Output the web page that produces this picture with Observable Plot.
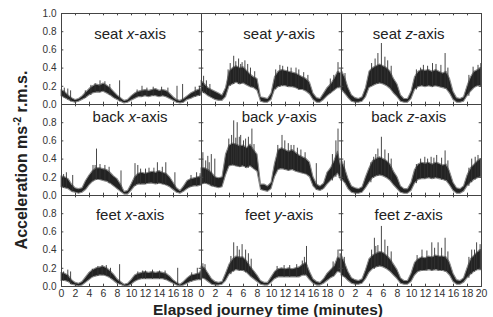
<!DOCTYPE html>
<html><head><meta charset="utf-8">
<script src="https://cdn.jsdelivr.net/npm/d3@7"></script>
<script src="https://cdn.jsdelivr.net/npm/@observablehq/plot@0.6"></script>
<style>
body{margin:0;background:#fff;}
#wrap{position:relative;width:493px;height:317px;font-family:"Liberation Sans",Arial,Helvetica,sans-serif;}
#ylab{position:absolute;left:21.5px;top:159.5px;transform:translate(-50%,-50%) rotate(-90deg);font-weight:bold;font-size:16px;line-height:1;white-space:nowrap;color:#222;}
#ylab sup{font-size:10px;vertical-align:6px;line-height:0;}
#xlab{position:absolute;left:268px;top:309.5px;transform:translate(-50%,-50%);font-weight:bold;font-size:15.5px;line-height:1;white-space:nowrap;color:#222;}
</style></head>
<body>
<div id="wrap"><div id="chart"></div><div id="ylab">Acceleration ms<sup>-2</sup> r.m.s.</div><div id="xlab">Elapsed journey time (minutes)</div></div>
<script>
const locs = ["seat","back","feet"];
const axesNames = ["x","y","z"];
const times = [0,0.5,1,1.5,2,2.5,3,3.5,4,4.5,5,5.5,6,6.5,7,7.5,8,8.5,9,9.5,10,10.5,11,11.5,12,12.5,13,13.5,14,14.5,15,15.5,16,16.5,17,17.5,18,18.5,19,19.5,20];

const seatXHi = [.16,.14,.10,.07,.05,.06,.09,.13,.17,.20,.22,.21,.23,.21,.18,.14,.10,.07,.04,.05,.09,.12,.14,.15,.16,.15,.16,.17,.15,.16,.15,.12,.08,.05,.04,.06,.09,.12,.14,.16,.17];
const seatXLo = [.09,.07,.05,.03,.02,.03,.05,.07,.10,.12,.13,.13,.14,.12,.10,.07,.05,.03,.01,.02,.04,.06,.08,.08,.09,.08,.09,.09,.08,.09,.08,.06,.04,.02,.01,.02,.05,.06,.08,.09,.10];
const seatXSpikes = [[0.4,.18],[0.9,.17],[1.3,.15],[3.4,.15],[4.2,.21],[4.8,.23],[5.5,.26],[6.2,.25],[6.9,.22],[8.3,.26],[10.8,.16],[11.5,.2],[12.2,.18],[13.1,.19],[14.3,.19],[15.2,.18],[16.5,.2],[17.3,.22],[19.1,.19],[19.7,.2]];

const seatYHi = [.26,.22,.18,.16,.14,.12,.10,.18,.36,.40,.42,.40,.41,.37,.33,.30,.28,.08,.07,.06,.12,.30,.36,.38,.37,.36,.35,.34,.32,.30,.28,.24,.12,.07,.06,.12,.18,.22,.28,.36,.34];
const seatYLo = [.14,.12,.09,.07,.05,.04,.04,.08,.20,.22,.24,.22,.23,.21,.19,.18,.15,.03,.02,.02,.05,.16,.19,.20,.20,.19,.19,.18,.16,.16,.14,.11,.05,.02,.02,.05,.09,.12,.15,.18,.18];
const seatYSpikes = [[0.3,.31],[0.7,.26],[1.2,.22],[3.8,.38],[4.1,.45],[4.6,.53],[4.9,.47],[5.3,.5],[5.6,.44],[5.8,.46],[6.2,.48],[6.6,.44],[7.0,.40],[7.6,.36],[10.6,.38],[11.2,.43],[11.6,.42],[12.3,.41],[12.8,.40],[13.5,.40],[13.9,.38],[14.6,.35],[15.2,.32],[18.4,.28],[18.9,.32],[19.5,.46]];

const seatZHi = [.38,.30,.18,.10,.07,.06,.08,.18,.36,.40,.42,.44,.42,.40,.36,.28,.22,.10,.06,.06,.14,.30,.36,.38,.37,.38,.36,.38,.36,.34,.36,.28,.14,.07,.06,.08,.20,.30,.36,.38,.40];
const seatZLo = [.16,.12,.07,.03,.02,.02,.03,.08,.18,.20,.22,.23,.22,.20,.17,.12,.08,.03,.02,.02,.06,.16,.19,.20,.19,.20,.19,.20,.19,.18,.17,.12,.05,.02,.02,.03,.09,.14,.18,.20,.20];
const seatZSpikes = [[0,.43],[0.5,.34],[4.3,.45],[4.8,.5],[5.2,.56],[5.7,.67],[6.2,.52],[6.6,.48],[7.1,.42],[10.7,.38],[11.3,.40],[11.7,.43],[12.3,.42],[13,.45],[13.5,.44],[14.2,.43],[14.8,.56],[15.2,.40],[18.2,.32],[18.8,.41],[19.5,.43],[19.9,.45]];

const backXHi = [.21,.20,.18,.12,.08,.07,.08,.16,.22,.27,.30,.30,.29,.28,.25,.21,.18,.12,.04,.05,.12,.20,.24,.25,.24,.25,.26,.25,.27,.25,.24,.20,.14,.08,.05,.10,.16,.18,.19,.20,.21];
const backXLo = [.09,.08,.07,.04,.03,.02,.03,.06,.11,.15,.17,.17,.16,.15,.13,.10,.07,.04,.01,.01,.05,.10,.12,.12,.12,.13,.13,.12,.13,.12,.11,.09,.06,.03,.02,.04,.07,.09,.10,.10,.11];
const backXSpikes = [[0.3,.23],[0.7,.25],[1.6,.22],[4.5,.33],[4.8,.33],[5,.51],[5.5,.34],[6.2,.33],[6.8,.31],[8.5,.27],[10.5,.35],[10.9,.33],[11.3,.29],[12,.29],[12.5,.3],[13.2,.30],[13.7,.36],[14.4,.31],[14.9,.36],[16.2,.25],[18.5,.22],[19.3,.25],[19.8,.24]];

const backYHi = [.30,.30,.28,.25,.20,.19,.20,.45,.55,.57,.56,.54,.55,.52,.56,.50,.45,.12,.12,.10,.14,.35,.50,.52,.50,.48,.50,.47,.44,.42,.40,.36,.20,.12,.10,.13,.25,.30,.38,.48,.30];
const backYLo = [.12,.13,.12,.10,.09,.08,.09,.22,.32,.33,.32,.31,.32,.30,.32,.29,.26,.06,.05,.04,.07,.20,.28,.29,.28,.27,.28,.26,.25,.24,.23,.20,.10,.06,.05,.07,.12,.16,.20,.24,.16];
const backYSpikes = [[0.2,.47],[0.6,.38],[0.9,.43],[1.1,.36],[1.4,.45],[1.9,.40],[3.9,.62],[4.3,.66],[4.6,.82],[4.9,.63],[5.1,.80],[5.4,.64],[5.6,.66],[6.0,.60],[6.3,.62],[6.7,.64],[7.2,.73],[7.5,.56],[10.9,.55],[11.5,.66],[11.9,.6],[12.4,.57],[12.8,.55],[13.2,.55],[13.7,.52],[14.2,.5],[14.8,.47],[16.4,.35],[18.7,.45],[19.2,.6],[19.5,.73]];

const backZHi = [.40,.30,.18,.10,.08,.07,.09,.20,.30,.38,.40,.42,.40,.38,.34,.26,.20,.10,.07,.07,.14,.28,.34,.36,.35,.36,.34,.36,.35,.33,.34,.26,.14,.08,.07,.10,.22,.30,.34,.38,.40];
const backZLo = [.18,.14,.07,.03,.02,.02,.03,.08,.14,.19,.21,.22,.21,.19,.16,.11,.07,.03,.02,.02,.05,.13,.17,.18,.18,.19,.18,.19,.18,.17,.16,.11,.05,.02,.02,.04,.10,.14,.17,.19,.20];
const backZSpikes = [[0,.45],[0.4,.38],[4.2,.36],[4.6,.42],[4.9,.45],[5.2,.51],[5.7,.64],[6.2,.5],[6.7,.46],[7.1,.40],[10.7,.34],[11.3,.40],[11.9,.42],[12.3,.40],[12.8,.42],[13.2,.41],[13.6,.44],[14.3,.41],[14.8,.49],[15.2,.38],[18.2,.30],[18.6,.40],[19.1,.42],[19.5,.44]];

const feetXHi = [.15,.14,.12,.07,.04,.03,.05,.10,.15,.18,.20,.21,.22,.20,.17,.13,.08,.05,.02,.03,.07,.12,.14,.15,.16,.15,.16,.15,.16,.15,.14,.11,.07,.04,.02,.05,.09,.12,.13,.14,.15];
const feetXLo = [.06,.06,.05,.02,.01,.00,.01,.04,.07,.10,.11,.12,.12,.11,.09,.06,.03,.02,.00,.00,.02,.05,.07,.08,.08,.08,.08,.08,.08,.08,.07,.05,.03,.01,.00,.01,.03,.05,.06,.07,.07];
const feetXSpikes = [[0.3,.16],[0.9,.18],[1.3,.16],[4.4,.19],[5.2,.22],[5.8,.23],[6.4,.23],[7.0,.20],[8.3,.24],[10.9,.16],[11.6,.17],[12,.17],[13,.18],[14,.17],[14.8,.17],[16.6,.2],[18.6,.15],[19.4,.2],[19.8,.17]];

const feetYHi = [.22,.20,.14,.08,.05,.04,.05,.14,.24,.30,.33,.32,.32,.28,.22,.17,.12,.06,.04,.04,.10,.16,.19,.20,.19,.20,.19,.20,.21,.24,.26,.16,.08,.05,.04,.08,.14,.18,.22,.32,.30];
const feetYLo = [.09,.08,.05,.02,.01,.01,.02,.06,.13,.16,.18,.17,.17,.15,.11,.08,.05,.02,.01,.01,.04,.08,.10,.10,.10,.10,.10,.10,.10,.12,.12,.07,.03,.01,.01,.03,.06,.09,.11,.16,.15];
const feetYSpikes = [[0.2,.25],[0.5,.24],[4.2,.33],[4.6,.48],[5.1,.44],[5.4,.40],[5.8,.46],[6.3,.40],[6.7,.36],[7.1,.30],[10.8,.22],[11.8,.23],[12.6,.23],[13.6,.24],[14.4,.28],[14.7,.32],[15,.44],[18.8,.27],[19.5,.4],[19.8,.36]];

const feetZHi = [.35,.26,.16,.09,.07,.06,.08,.18,.30,.34,.36,.38,.37,.34,.30,.24,.18,.09,.06,.06,.14,.26,.30,.32,.31,.33,.32,.34,.33,.33,.32,.26,.14,.07,.06,.09,.20,.30,.34,.38,.40];
const feetZLo = [.12,.10,.06,.03,.02,.02,.03,.08,.15,.19,.21,.22,.21,.19,.16,.12,.08,.03,.02,.02,.05,.12,.16,.17,.17,.18,.17,.18,.17,.17,.16,.12,.05,.02,.02,.04,.09,.13,.16,.18,.18];
const feetZSpikes = [[0,.38],[0.4,.32],[4.3,.40],[4.7,.53],[4.9,.44],[5.2,.45],[5.7,.66],[6.2,.51],[6.6,.44],[7.1,.38],[10.8,.34],[11.5,.40],[12.2,.39],[12.9,.48],[13.3,.42],[13.8,.48],[14.3,.42],[14.8,.53],[15.2,.38],[18.2,.32],[18.6,.40],[19.0,.40],[19.3,.48],[19.8,.46]];

const xTickLabels = {x:[0,2,4,6,8,10,12,14,16,18], y:[0,2,4,6,8,10,12,14,16,18], z:[0,2,4,6,8,10,12,14,16,18,20]};
const yTickLabels = {seat:[0,0.2,0.4,0.6,0.8,1.0], back:[0,0.2,0.4,0.6,0.8], feet:[0,0.2,0.4,0.6,0.8]};
const xTickMarks = [2,4,6,8,10,12,14,16,18];
const yTickMarks = [0.2,0.4,0.6,0.8];

const series = [
  {loc:"seat",ax:"x",hi:seatXHi,lo:seatXLo,sp:seatXSpikes},
  {loc:"seat",ax:"y",hi:seatYHi,lo:seatYLo,sp:seatYSpikes},
  {loc:"seat",ax:"z",hi:seatZHi,lo:seatZLo,sp:seatZSpikes},
  {loc:"back",ax:"x",hi:backXHi,lo:backXLo,sp:backXSpikes},
  {loc:"back",ax:"y",hi:backYHi,lo:backYLo,sp:backYSpikes},
  {loc:"back",ax:"z",hi:backZHi,lo:backZLo,sp:backZSpikes},
  {loc:"feet",ax:"x",hi:feetXHi,lo:feetXLo,sp:feetXSpikes},
  {loc:"feet",ax:"y",hi:feetYHi,lo:feetYLo,sp:feetYSpikes},
  {loc:"feet",ax:"z",hi:feetZHi,lo:feetZLo,sp:feetZSpikes}
];

const rows = series.flatMap(s => times.map((t,i) => ({loc:s.loc, ax:s.ax, t, lo:s.lo[i], hi:s.hi[i]})));
const spikeRows = series.flatMap(s => s.sp.map(([t,v]) => ({loc:s.loc, ax:s.ax, t, v, base:s.lo[times.indexOf(Math.round(t*2)/2)]})));
const facetsAll = locs.flatMap(loc => axesNames.map(ax => ({loc, ax})));
const xTickRows = facetsAll.flatMap(f => xTickMarks.map(t => ({...f, t})));
const yTickRows = facetsAll.flatMap(f => yTickMarks.map(v => ({...f, v})));
const xLabRows = axesNames.flatMap(ax => xTickLabels[ax].map(t => ({loc:"feet", ax, t})));
const yLabRows = locs.flatMap(loc => yTickLabels[loc].map(v => ({loc, ax:"x", v})));

const W = 493, H = 317, mL = 60, mR = 11, mT = 12, mB = 30;
const fw = (W - mL - mR) / 3, fh = (H - mT - mB) / 3, tk = 3;
const labelX = {x:9.8, y:11.1, z:9.6};
const labelY = {seat:0.77, back:0.865, feet:0.78};
const font = "Liberation Sans, Arial, Helvetica, sans-serif";

const chart = Plot.plot({
  width: W, height: H,
  marginLeft: mL, marginRight: mR, marginTop: mT, marginBottom: mB,
  style: {fontFamily: font, background: "#fff", color: "#222"},
  fx: {domain: axesNames, padding: 0, axis: null},
  fy: {domain: locs, padding: 0, axis: null},
  x: {domain: [0, 20], axis: null},
  y: {domain: [0, 1], axis: null},
  marks: [
    Plot.areaY(rows, {fx:"ax", fy:"loc", x:"t", y1:"lo", y2:"hi", fill:"#222", stroke:"#8a8a8a", strokeWidth:1.1}),
    Plot.ruleX(spikeRows, {fx:"ax", fy:"loc", x:"t", y1:"base", y2:"v", stroke:"#333", strokeWidth:0.9}),
    Plot.tickX(xTickRows, {fx:"ax", fy:"loc", x:"t", insetTop: fh - tk, stroke:"#444"}),
    Plot.tickX(xTickRows, {fx:"ax", fy:"loc", x:"t", insetBottom: fh - tk, stroke:"#444"}),
    Plot.tickY(yTickRows, {fx:"ax", fy:"loc", y:"v", insetRight: fw - tk, stroke:"#444"}),
    Plot.tickY(yTickRows, {fx:"ax", fy:"loc", y:"v", insetLeft: fw - tk, stroke:"#444"}),
    Plot.frame({stroke:"#444", strokeWidth:1}),
    Plot.text(xLabRows, {fx:"ax", fy:"loc", x:"t", text: d => String(d.t), frameAnchor:"bottom", lineAnchor:"top", dy:3, fontSize:10.5, fill:"#333"}),
    Plot.text(yLabRows, {fx:"ax", fy:"loc", y:"v", text: d => d.v.toFixed(1), frameAnchor:"left", textAnchor:"end", dx:-5, fontSize:10, fill:"#333"}),
    Plot.text(facetsAll, {fx:"ax", fy:"loc", x: d => labelX[d.ax], y: d => labelY[d.loc], text: d => `${d.loc} ${d.ax}-axis`, fontSize:15, fill:"#222"})
  ]
});
document.getElementById("chart").appendChild(chart);

// italicise the axis letter in panel labels
const NS = "http://www.w3.org/2000/svg";
chart.querySelectorAll("text").forEach(el => {
  const m = /^(seat|back|feet) ([xyz])-axis$/.exec(el.textContent);
  if (!m) return;
  el.textContent = "";
  const a = document.createElementNS(NS, "tspan"); a.textContent = m[1] + " ";
  const b = document.createElementNS(NS, "tspan"); b.textContent = m[2]; b.setAttribute("font-style", "italic");
  const c = document.createElementNS(NS, "tspan"); c.textContent = "-axis";
  el.append(a, b, c);
});
</script>
</body></html>
